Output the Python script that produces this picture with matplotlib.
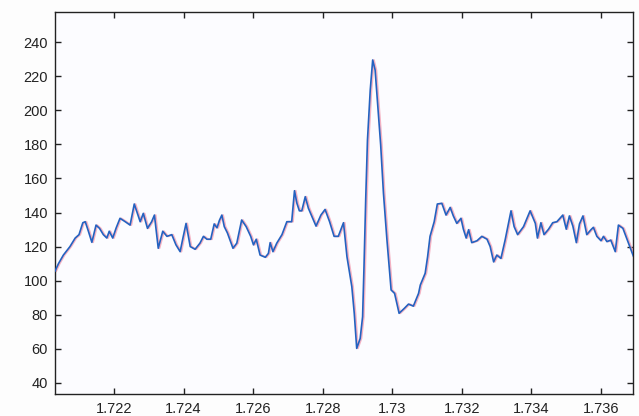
import matplotlib
matplotlib.use("Agg")
import matplotlib.pyplot as plt
import matplotlib.transforms as mtransforms

# Sampled signal (time, amplitude)
t = [1.72030, 1.72040, 1.72054, 1.72073, 1.72088, 1.72099, 1.72110, 1.72117,
     1.72126, 1.72136, 1.72148, 1.72158, 1.72169, 1.72179, 1.72186, 1.72196,
     1.72206, 1.72217, 1.72232, 1.72246, 1.72258, 1.72267, 1.72275, 1.72284,
     1.72296, 1.72308, 1.72316, 1.72327, 1.72340, 1.72352, 1.72366, 1.72378,
     1.72390, 1.72398, 1.72407, 1.72419, 1.72433, 1.72447, 1.72457, 1.72467,
     1.72478, 1.72488, 1.72496, 1.72503, 1.72510, 1.72517, 1.72526, 1.72542,
     1.72553, 1.72567, 1.72580, 1.72593, 1.72601, 1.72609, 1.72620, 1.72635,
     1.72644, 1.72649, 1.72657, 1.72668, 1.72683, 1.72697, 1.72711, 1.72719,
     1.72726, 1.72733, 1.72740, 1.72750, 1.72759, 1.72781, 1.72795, 1.72807,
     1.72820, 1.72833, 1.72845, 1.72860, 1.72870, 1.72884, 1.72891, 1.72898,
     1.72908, 1.72915, 1.72919, 1.72924, 1.72929, 1.72937, 1.72944, 1.72951,
     1.72959, 1.72967, 1.72975, 1.72985, 1.72997, 1.73007, 1.73020, 1.73035,
     1.73047, 1.73061, 1.73076, 1.73081, 1.73095, 1.73102, 1.73109, 1.73121,
     1.73130, 1.73143, 1.73155, 1.73167, 1.73176, 1.73186, 1.73198, 1.73205,
     1.73213, 1.73220, 1.73229, 1.73244, 1.73258, 1.73273, 1.73282, 1.73292,
     1.73301, 1.73313, 1.73325, 1.73335, 1.73342, 1.73351, 1.73361, 1.73378,
     1.73397, 1.73412, 1.73418, 1.73428, 1.73437, 1.73450, 1.73462, 1.73474,
     1.73491, 1.73501, 1.73510, 1.73520, 1.73530, 1.73539, 1.73549, 1.73560,
     1.73572, 1.73579, 1.73589, 1.73601, 1.73608, 1.73618, 1.73629, 1.73642,
     1.73651, 1.73664, 1.73680, 1.73694]

amplitude = [105.6, 110.0, 115.0, 120.0, 125.0, 127.0, 134.0, 134.6,
             129.0, 122.5, 132.6, 130.7, 127.0, 125.0, 129.0, 125.0,
             131.0, 136.6, 134.6, 132.6, 145.0, 139.5, 134.6, 139.5,
             130.7, 134.6, 138.5, 119.0, 129.0, 126.0, 127.0, 121.0,
             117.0, 125.0, 133.6, 120.0, 118.4, 122.0, 126.0, 124.3,
             124.3, 133.3, 131.0, 135.4, 138.5, 131.7, 128.0, 119.0,
             122.0, 135.6, 131.7, 126.0, 121.0, 124.3, 115.0, 113.7,
             116.0, 122.3, 117.0, 122.0, 127.0, 134.6, 134.6, 152.8,
             145.4, 141.0, 141.0, 149.3, 142.5, 132.0, 138.5, 141.8,
             134.6, 126.0, 126.0, 134.0, 114.0, 96.4, 80.8, 60.2,
             66.0, 78.8, 108.0, 148.3, 182.6, 212.0, 229.6, 223.7,
             202.0, 179.7, 151.3, 124.0, 94.5, 92.5, 80.8, 83.7,
             86.2, 85.0, 92.5, 97.4, 104.3, 114.0, 126.0, 134.6,
             145.0, 145.4, 138.5, 143.0, 138.0, 133.6, 136.6, 130.2,
             125.0, 129.9, 122.3, 123.4, 126.0, 124.3, 120.0, 111.0,
             115.0, 113.0, 123.8, 134.0, 141.0, 131.7, 127.0, 131.7,
             141.0, 133.6, 125.0, 134.0, 127.0, 130.2, 134.0, 134.6,
             138.5, 130.2, 138.0, 132.0, 122.3, 133.3, 138.0, 127.0,
             129.9, 131.3, 126.0, 123.4, 126.0, 122.9, 123.8, 117.0,
             132.6, 130.7, 122.0, 114.4]

x_ticks = [1.722, 1.724, 1.726, 1.728, 1.730, 1.732, 1.734, 1.736]
x_tick_labels = ["1.722", "1.724", "1.726", "1.728", "1.73", "1.732", "1.734", "1.736"]
y_ticks = [40, 60, 80, 100, 120, 140, 160, 180, 200, 220, 240]

plt.rcParams["font.family"] = ["Liberation Sans", "DejaVu Sans"]

fig = plt.figure(figsize=(6.39, 4.16), dpi=100)
fig.patch.set_facecolor("#fdfdfd")
ax = fig.add_axes([0.0861, 0.0529, 0.9045, 0.9175])
ax.set_facecolor("#fcfcff")

# faint reddish fringe beside the trace
shadow = mtransforms.offset_copy(ax.transData, fig=fig, x=0.9, y=0, units="points")
ax.plot(t, amplitude, color="#f2a0b4", lw=1.3, alpha=0.8, transform=shadow, zorder=2)
ax.plot(t, amplitude, color="#2462c0", lw=1.2, zorder=3)

ax.set_xlim(1.72030, 1.73693)
ax.set_ylim(33.4, 257.6)
ax.set_xticks(x_ticks)
ax.set_xticklabels(x_tick_labels)
ax.set_yticks(y_ticks)

ax.tick_params(direction="in", length=4.5, width=1.0, top=True, right=True,
               labelsize=10.5, colors="#222222", pad=6)
ax.tick_params(axis="y", pad=5)
for s in ax.spines.values():
    s.set_color("#222222")
    s.set_linewidth(1.0)

fig.savefig("out.png", dpi=100, facecolor=fig.get_facecolor())
